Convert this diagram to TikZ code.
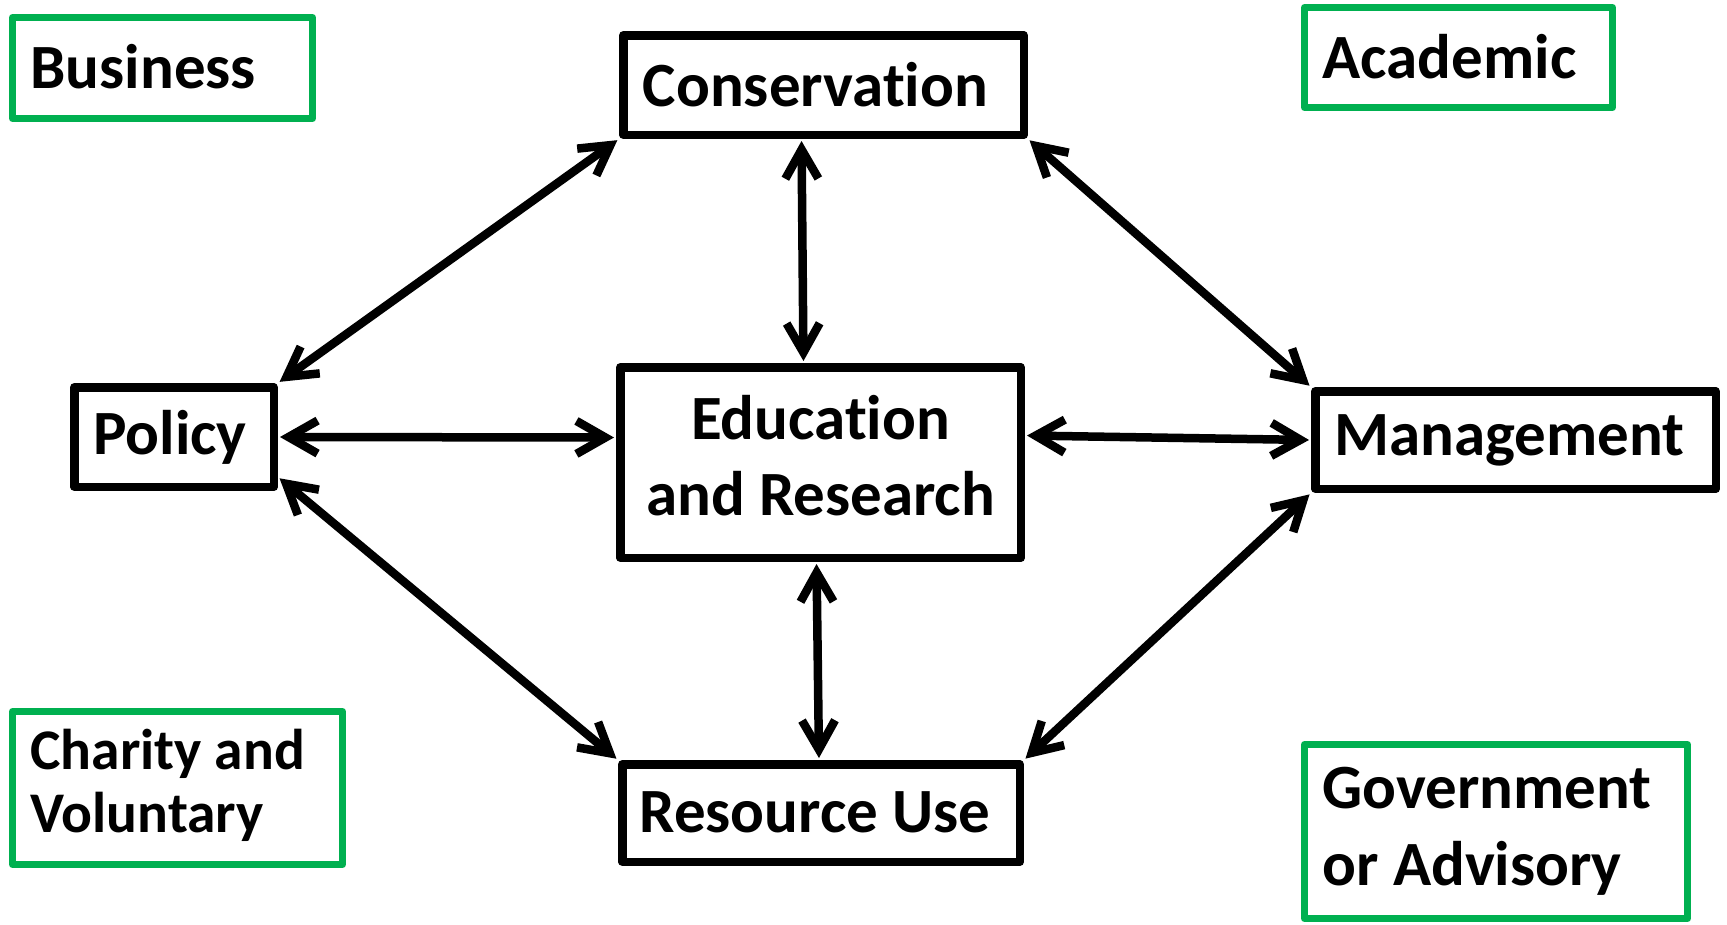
\documentclass[tikz,border=0pt]{standalone}
\usepackage{fontspec}
\setmainfont{Carlito}[Ligatures={NoCommon}]
\usetikzlibrary{arrows.meta}
\definecolor{offgreen}{HTML}{00B050}
\begin{document}
\begin{tikzpicture}[x=1pt,y=-1pt,
  box/.style={draw=black, line width=8.5pt, line join=round, rectangle, align=center,
    font=\bfseries\fontsize{63}{76}\selectfont, inner sep=0pt},
  gbox/.style={draw=offgreen, line width=7pt, line join=round, rectangle, align=flush left,
    font=\bfseries\fontsize{63}{77}\selectfont, inner xsep=18pt, inner ysep=0pt},
  link/.style={line width=8.5pt, line cap=round, line join=round,
    shorten <=2pt, shorten >=2pt,
    {Straight Barb[length=29pt,width=33pt]}-{Straight Barb[length=29pt,width=33pt]}}]
\useasboundingbox (0,0) rectangle (1727,924);

% green category boxes
\node[gbox, text width=264pt, minimum height=101pt] (bus) at (162.5,68) {\raisebox{3pt}{Business}};
\node[gbox, text width=272pt, minimum height=100pt] (acad) at (1458.5,57.5) {\raisebox{3pt}{Academic}};
\node[gbox, text width=294pt, minimum height=153pt,
      font=\bfseries\fontsize{57.5}{63}\selectfont] (char) at (177.5,788)
      {\raisebox{4pt}{\begin{tabular}{@{}l@{}}Charity and\\Voluntary\end{tabular}}};
\node[gbox, text width=347pt, minimum height=174pt] (gov) at (1496,831.5)
      {\raisebox{-4pt}{\begin{tabular}{@{}l@{}}Government\\or Advisory\end{tabular}}};

% black boxes
\node[box, minimum width=400.5pt, minimum height=99.5pt] (cons) at (823.5,85) {\hspace*{-16pt}Conservation};
\node[box, minimum width=199.5pt, minimum height=99.5pt] (pol) at (174,437) {\hspace*{-8pt}\raisebox{-2pt}{Policy}};
\node[box, minimum width=400.5pt, minimum height=190.5pt] (edu) at (820.5,462.5)
      {\raisebox{10pt}{\begin{tabular}{@{}c@{}}Education\\and Research\end{tabular}}};
\node[box, minimum width=400.5pt, minimum height=97.5pt] (mgmt) at (1515.5,440) {\hspace*{-12pt}\raisebox{-2pt}{Management}};
\node[box, minimum width=397.5pt, minimum height=97.5pt] (res) at (821,813) {\hspace*{-12pt}\raisebox{2pt}{Resource Use}};

% connectors
\draw[link] (cons.south west) -- (pol.north east);
\draw[link] ([xshift=-22pt]cons.south) -- ([xshift=-17pt]edu.north);
\draw[link] (cons.south east) -- (mgmt.north west);
\draw[link] (pol.east) -- ([yshift=25pt]edu.west);
\draw[link] ([yshift=27pt]edu.east) -- (mgmt.west);
\draw[link] ([yshift=14pt]pol.south east) -- (res.north west);
\draw[link] ([xshift=-4pt]edu.south) -- ([xshift=-2pt]res.north);
\draw[link] (mgmt.south west) -- (res.north east);
\end{tikzpicture}
\end{document}
